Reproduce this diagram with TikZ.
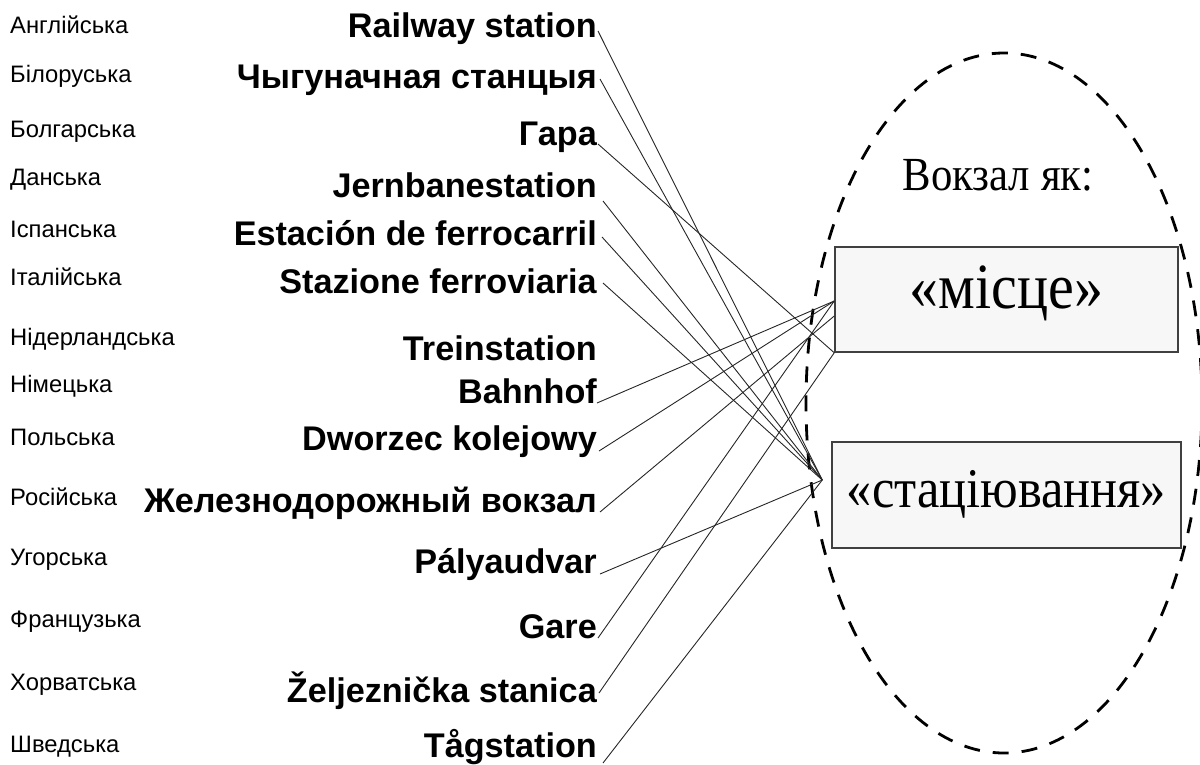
\documentclass[tikz,border=0pt]{standalone}
\usepackage{fontspec}
\setmainfont{Liberation Serif}
\newfontfamily\sansf{Liberation Sans}
\newfontfamily\boxserif[FakeStretch=0.9]{Liberation Serif}
\usetikzlibrary{calc}

\tikzset{
  lang/.style={anchor=base west, inner sep=0pt, font=\sansf\fontsize{23.8}{28}\selectfont},
  word/.style={anchor=base east, inner sep=0pt, font=\sansf\bfseries\fontsize{34.2}{40}\selectfont},
  conceptbox/.style={draw=black!75, line width=1.5pt, fill=black!3, inner sep=0pt,
    minimum width=343pt, minimum height=105pt},
  link/.style={draw=black!85, line width=0.9pt},
  scope ring/.style={draw=black, line width=2.8pt, dash pattern=on 16pt off 13pt},
}

\begin{document}
\begin{tikzpicture}[x=1pt, y=-1pt]
\useasboundingbox (0,0) rectangle (1200,764);

% language names
\node[lang] (l1)  at (10,33)  {Англійська};
\node[lang] (l2)  at (10,82)  {Білоруська};
\node[lang] (l3)  at (10,137) {Болгарська};
\node[lang] (l4)  at (10,185) {Данська};
\node[lang] (l5)  at (10,237) {Іспанська};
\node[lang] (l6)  at (10,285) {Італійська};
\node[lang] (l7)  at (10,345) {Нідерландська};
\node[lang] (l8)  at (10,392) {Німецька};
\node[lang] (l9)  at (10,445) {Польська};
\node[lang] (l10) at (10,505) {Російська};
\node[lang] (l11) at (10,565) {Угорська};
\node[lang] (l12) at (10,627) {Французька};
\node[lang] (l13) at (10,690) {Хорватська};
\node[lang] (l14) at (10,752) {Шведська};

% translations of "railway station"
\node[word] (t1)  at (597,37)  {Railway station};
\node[word] (t2)  at (597,88)  {Чыгуначная станцыя};
\node[word] (t3)  at (597,145) {Гара};
\node[word] (t4)  at (597,197) {Jernbanestation};
\node[word] (t5)  at (597,245) {Estación de ferrocarril};
\node[word] (t6)  at (597,293) {Stazione ferroviaria};
\node[word] (t7)  at (597,360) {Treinstation};
\node[word] (t8)  at (597,403) {Bahnhof};
\node[word] (t9)  at (597,450) {Dworzec kolejowy};
\node[word] (t10) at (597,512) {Железнодорожный вокзал};
\node[word] (t11) at (597,573) {Pályaudvar};
\node[word] (t12) at (597,638) {Gare};
\node[word] (t13) at (597,702) {Željeznička stanica};
\node[word] (t14) at (597,757) {Tågstation};

% concept area
\draw[scope ring] (1004,403) ellipse [x radius=198pt, y radius=350pt];
\node[inner sep=0pt, anchor=base, font=\boxserif\fontsize{47.5}{52}\selectfont] (title) at (998,190) {Вокзал як:};
\node[conceptbox, font=\boxserif\fontsize{64.5}{70}\selectfont, text height=30pt, text depth=13pt]
  (b1) at (1006.5,299.5) {«місце»};
\node[conceptbox, font=\boxserif\fontsize{56}{62}\selectfont, text height=34pt, text depth=10pt,
  minimum width=349pt, minimum height=106pt]
  (b2) at (1006.5,495) {«стаціювання»};

% connector end points
\coordinate (hub) at ($(b2.west)+(-9,-15)$);
\coordinate (pa)  at ($(b1.west)+(0,1.5)$);
\coordinate (pb)  at ($(b1.west)+(0,16.5)$);
\coordinate (pc)  at (b1.south west);

% connector start points, just after each word
\coordinate (s1)  at ($(t1.base east)+(1,-6)$);
\coordinate (s2)  at ($(t2.base east)+(3,-9)$);
\coordinate (s3)  at ($(t3.base east)+(1,-1)$);
\coordinate (s4)  at ($(t4.base east)+(6,4)$);
\coordinate (s5)  at ($(t5.base east)+(5,-8)$);
\coordinate (s6)  at ($(t6.base east)+(6,-10)$);
\coordinate (s8)  at ($(t8.base east)+(0,0)$);
\coordinate (s9)  at ($(t9.base east)+(2,1)$);
\coordinate (s10) at ($(t10.base east)+(3,0)$);
\coordinate (s11) at ($(t11.base east)+(3,1)$);
\coordinate (s12) at ($(t12.base east)+(1,0)$);
\coordinate (s13) at ($(t13.base east)+(2,-9)$);
\coordinate (s14) at ($(t14.base east)+(6,6)$);

% links to "стаціювання"
\foreach \s in {s1,s2,s4,s5,s6,s11,s14}
  \draw[link] (\s) -- (hub);
% links to "місце"
\foreach \s in {s8,s9,s12}
  \draw[link] (\s) -- (pa);
\draw[link] (s10) -- (pb);
\draw[link] (s3) -- (pc);
\draw[link] (s13) -- (pc);
\end{tikzpicture}
\end{document}
